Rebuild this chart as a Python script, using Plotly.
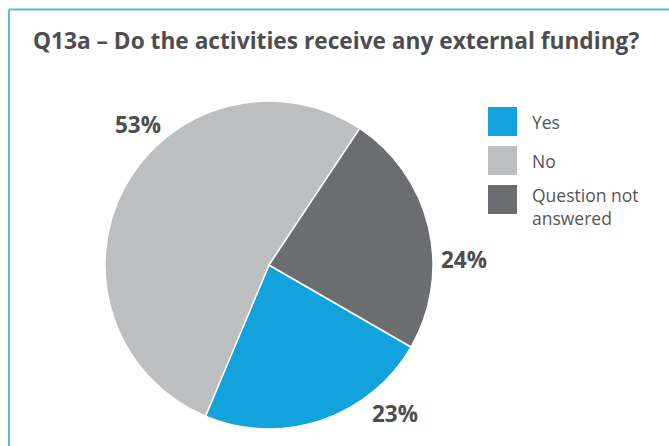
import plotly.graph_objects as go

# Survey responses
categories = ["Yes", "No", "Question not answered"]
legend_labels = ["Yes", "No", "Question not<br>answered"]
percentages = [23, 53, 24]
colors = ["#12a3dc", "#bdbec0", "#6c6d70"]

W, H = 669, 446


def px(x):
    return x / W


def py(y):
    return (H - y) / H


# pie geometry in pixels
cx, cy, r = 269, 265, 164

fig = go.Figure(
    go.Pie(
        labels=categories,
        values=percentages,
        marker=dict(colors=colors, line=dict(color="white", width=1.5)),
        sort=False,
        direction="clockwise",
        rotation=120,
        textinfo="none",
        hoverinfo="label+percent",
        showlegend=False,
        domain=dict(x=[px(cx - r), px(cx + r)], y=[py(cy + r), py(cy - r)]),
    )
)

text_color = "#4d4d4f"
font_family = "Open Sans, DejaVu Sans, sans-serif"

annotations = [
    dict(
        text="<b>Q13a – Do the activities receive any external funding?</b>",
        x=px(31), y=py(40), xref="paper", yref="paper",
        xanchor="left", yanchor="middle", showarrow=False,
        font=dict(size=22.7, color=text_color, family=font_family),
    )
]

# percentage labels placed beside their slices
label_pos = {"Yes": (395, 413), "No": (138, 124), "Question not answered": (464, 259)}
for cat, val in zip(categories, percentages):
    lx, ly = label_pos[cat]
    annotations.append(
        dict(
            text=f"<b>{val}%</b>", x=px(lx), y=py(ly), xref="paper", yref="paper",
            xanchor="center", yanchor="middle", showarrow=False,
            font=dict(size=22.5, color=text_color, family=font_family),
        )
    )

# custom legend: coloured squares with labels
shapes = []
legend_tops = [107, 146, 185]
legend_mid = [122, 161, 206]
for lab, col, top, mid in zip(legend_labels, colors, legend_tops, legend_mid):
    shapes.append(
        dict(type="rect", xref="paper", yref="paper",
             x0=px(488), x1=px(517), y0=py(top + 29), y1=py(top),
             fillcolor=col, line=dict(width=0))
    )
    annotations.append(
        dict(text=lab, x=px(530), y=py(mid), xref="paper", yref="paper",
             xanchor="left", yanchor="middle", align="left", showarrow=False,
             font=dict(size=17.5, color="#555558", family=font_family))
    )

# frame around the chart panel
frame_color = "#5bbde6"
shapes.append(dict(type="line", xref="paper", yref="paper",
                   x0=px(9), x1=1.01, y0=py(9.5), y1=py(9.5),
                   line=dict(color=frame_color, width=2)))
shapes.append(dict(type="line", xref="paper", yref="paper",
                   x0=px(9), x1=px(9), y0=py(9.5), y1=-0.01,
                   line=dict(color=frame_color, width=2)))

fig.update_layout(
    width=W, height=H,
    margin=dict(l=0, r=0, t=0, b=0),
    paper_bgcolor="white", plot_bgcolor="white",
    annotations=annotations, shapes=shapes,
)

fig.write_html("out.html")
